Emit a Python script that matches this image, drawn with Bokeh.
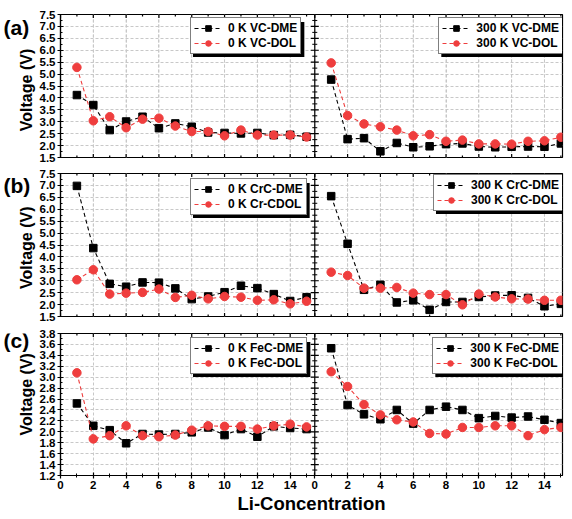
import math
from bokeh.plotting import figure
from bokeh.models import (Range1d, FixedTicker, Span, Legend, LegendItem,
                          BoxAnnotation, CustomJSTickFormatter, NumeralTickFormatter)
from bokeh.layouts import column, row
from bokeh.core.properties import value
from bokeh.embed import file_html
from bokeh.resources import INLINE

# ---------------- data ----------------
conc = [1, 2, 3, 4, 5, 6, 7, 8, 9, 10, 11, 12, 13, 14, 15]

vc_0k_dme = [4.12, 3.70, 2.65, 3.01, 3.21, 2.73, 2.93, 2.79, 2.55, 2.53, 2.51, 2.53, 2.44, 2.45, 2.37]
vc_0k_dol = [5.28, 3.04, 3.21, 2.75, 3.11, 3.15, 2.82, 2.59, 2.59, 2.41, 2.65, 2.44, 2.44, 2.44, 2.36]
vc_300k_dme = [4.77, 2.27, 2.31, 1.76, 2.11, 1.93, 1.97, 2.06, 2.09, 1.96, 1.93, 1.95, 1.96, 1.95, 2.09]
vc_300k_dol = [5.47, 3.26, 2.91, 2.79, 2.65, 2.41, 2.46, 2.18, 2.23, 2.07, 2.07, 2.06, 2.18, 2.20, 2.35]

crc_0k_dme = [6.98, 4.37, 2.87, 2.75, 2.93, 2.92, 2.68, 2.23, 2.34, 2.52, 2.79, 2.69, 2.44, 2.15, 2.31]
crc_0k_dol = [3.04, 3.46, 2.44, 2.48, 2.51, 2.65, 2.30, 2.39, 2.24, 2.34, 2.31, 2.18, 2.20, 2.03, 2.14]
crc_300k_dme = [6.55, 4.55, 2.62, 2.83, 2.09, 2.18, 1.78, 2.11, 2.11, 2.32, 2.38, 2.39, 2.28, 1.93, 2.03]
crc_300k_dol = [3.36, 3.22, 2.69, 2.69, 2.72, 2.48, 2.42, 2.42, 1.99, 2.44, 2.32, 2.24, 2.23, 2.18, 2.18]

fec_0k_dme = [2.52, 2.11, 2.03, 1.79, 1.96, 1.95, 1.96, 1.99, 2.08, 1.94, 2.05, 1.91, 2.10, 2.07, 2.05]
fec_0k_dol = [3.08, 1.87, 1.93, 2.11, 1.93, 1.91, 1.94, 2.03, 2.11, 2.10, 2.10, 2.05, 2.11, 2.14, 2.09]
fec_300k_dme = [3.53, 2.49, 2.32, 2.23, 2.40, 2.15, 2.40, 2.46, 2.40, 2.25, 2.29, 2.26, 2.28, 2.22, 2.16]
fec_300k_dol = [3.10, 2.83, 2.50, 2.31, 2.22, 2.18, 1.97, 1.96, 2.08, 2.08, 2.11, 2.11, 1.93, 2.04, 2.08]

x_ticks = [0, 2, 4, 6, 8, 10, 12, 14]
y_ticks_ab = [1.5, 2.0, 2.5, 3.0, 3.5, 4.0, 4.5, 5.0, 5.5, 6.0, 6.5, 7.0, 7.5]
y_ticks_c = [1.2, 1.4, 1.6, 1.8, 2.0, 2.2, 2.4, 2.6, 2.8, 3.0, 3.2, 3.4, 3.6, 3.8]

# ---------------- style ----------------
FONT = "Liberation Sans"
RED = "#ef3e3e"
LEFT_SPAN = 15.5     # x extent of the left (0 K) panel
RIGHT_SPAN = 15.1    # x extent of the right (300 K) panel
FRAME_W = 505
FRAME_H = 143
STRIP_W = 36
LEGEND_FS = 12

CHARW = {'0': .556, '3': .556, ' ': .278, 'K': .722, 'V': .667, 'C': .722, '-': .333,
         'D': .722, 'M': .833, 'E': .667, 'O': .778, 'L': .611, 'r': .389, 'F': .611, 'e': .556}


def text_w(s, fs):
    return sum(CHARW.get(c, .6) for c in s) * fs


def minors(ticks, extra_end=None):
    m = [(a + b) / 2 for a, b in zip(ticks[:-1], ticks[1:])]
    if extra_end is not None:
        m.append(extra_end)
    return m


x_minor = minors(x_ticks, 15)
all_x_major = x_ticks + [t + LEFT_SPAN for t in x_ticks]
all_x_minor = x_minor + [t + LEFT_SPAN for t in x_minor]


def make_strip(height, tag, top_b, bot_b, tag_dy):
    s = figure(width=STRIP_W, height=height, output_backend="svg", toolbar_location=None,
               x_range=Range1d(0, STRIP_W), y_range=Range1d(0, height),
               x_axis_location=None, y_axis_location=None, min_border=0,
               outline_line_color=None, background_fill_color="white",
               border_fill_color="white")
    s.xgrid.visible = False
    s.ygrid.visible = False
    s.text(x=[3], y=[height - top_b + tag_dy], text=[tag], text_font=value(FONT),
           text_font_style=value("bold"), text_font_size=value("21px"),
           text_align=value("left"), text_baseline=value("middle"), text_color="black")
    s.text(x=[STRIP_W - 10], y=[bot_b + FRAME_H / 2], text=["Voltage (V)"],
           angle=math.pi / 2, text_font=value(FONT), text_font_style=value("bold"),
           text_font_size=value("16px"), text_align=value("center"),
           text_baseline=value("middle"), text_color="black")
    return s


def tick_marks(p, xs, y, size, angle):
    p.scatter(x=xs, y=[y] * len(xs), marker="dash", size=size, angle=angle,
              line_color="black", line_width=1.2)


def make_row(tag, yr, yticks, left_data, right_data, labels, legend_tops,
             top_b, bot_b, show_x, tag_dy):
    height = top_b + FRAME_H + bot_b
    p = figure(width=21 + FRAME_W + 5, height=height, output_backend="svg",
               toolbar_location=None,
               x_range=Range1d(0, LEFT_SPAN + RIGHT_SPAN), y_range=Range1d(*yr),
               x_axis_location="below" if show_x else None,
               min_border_left=21, min_border_right=5, min_border_top=top_b,
               min_border_bottom=bot_b, background_fill_color="white",
               border_fill_color="white")
    p.extra_x_ranges = {"right": Range1d(-LEFT_SPAN, RIGHT_SPAN)}
    p.outline_line_color = "black"
    p.outline_line_width = 1.2

    yminor = minors(yticks)
    if show_x:
        xa = p.xaxis[0]
        xa.ticker = FixedTicker(ticks=all_x_major, minor_ticks=all_x_minor)
        xa.formatter = CustomJSTickFormatter(args=dict(split=LEFT_SPAN),
            code="const v = tick > split - 0.01 ? tick - split : tick; return v.toFixed(0);")
        xa.major_tick_in = 3
        xa.major_tick_out = 3
        xa.minor_tick_in = 2
        xa.minor_tick_out = 2
        xa.axis_line_width = 1.2
        xa.major_tick_line_width = 1.2
        xa.major_label_text_font = FONT
        xa.major_label_text_font_style = "bold"
        xa.major_label_text_font_size = "11.5px"
        xa.major_label_text_color = "black"
        xa.major_label_standoff = 2
        xa.axis_label = "Li-Concentration"
        xa.axis_label_text_font = FONT
        xa.axis_label_text_font_style = "bold"
        xa.axis_label_text_font_size = "18.5px"
        xa.axis_label_text_color = "black"
        xa.axis_label_standoff = 1
    else:
        tick_marks(p, all_x_major, yr[0], 7, math.pi / 2)
        tick_marks(p, all_x_minor, yr[0], 4, math.pi / 2)
    # top ticks
    tick_marks(p, all_x_major, yr[1], 7, math.pi / 2)
    tick_marks(p, all_x_minor, yr[1], 4, math.pi / 2)

    # left axis
    ya = p.yaxis[0]
    ya.ticker = FixedTicker(ticks=yticks, minor_ticks=yminor)
    ya.formatter = NumeralTickFormatter(format="0.0")
    ya.major_label_text_font = FONT
    ya.major_label_text_font_style = "bold"
    ya.major_label_text_font_size = "11.5px"
    ya.major_label_text_color = "black"
    ya.major_label_standoff = 2
    ya.major_tick_in = 3
    ya.major_tick_out = 3
    ya.minor_tick_in = 2
    ya.minor_tick_out = 0
    ya.axis_line_width = 1.2
    ya.major_tick_line_width = 1.2

    # grids
    p.xgrid.ticker = FixedTicker(ticks=all_x_major)
    p.ygrid[0].ticker = FixedTicker(ticks=yticks)
    p.grid.grid_line_color = "#c8c8c8"
    p.grid.grid_line_dash = "3 2"
    p.grid.grid_line_width = 1
    if not show_x:
        # x grid lines without an x axis
        for xv in all_x_major:
            p.add_layout(Span(location=xv, dimension="height", line_color="#c8c8c8",
                              line_dash="3 2", line_width=1, level="underlay"))

    # divider between panels with crossing ticks
    p.add_layout(Span(location=LEFT_SPAN, dimension="height", line_color="black",
                      line_width=1.2))
    p.scatter(x=[LEFT_SPAN] * len(yticks), y=yticks, marker="dash", size=8,
              line_color="black", line_width=1.2)
    p.scatter(x=[LEFT_SPAN] * len(yminor), y=yminor, marker="dash", size=5,
              line_color="black", line_width=1)

    # series
    panels = [("default", left_data, labels[0:2], legend_tops[0], 130),
              ("right", right_data, labels[2:4], legend_tops[1], None)]
    for rname, (dme, dol), labs, ltop, lx in panels:
        kw = {} if rname == "default" else {"x_range_name": "right"}
        l1 = p.line(conc, dme, line_color="black", line_dash="4 3", line_width=1.1, **kw)
        s1 = p.scatter(conc, dme, marker="square", size=7.5, fill_color="black",
                       line_color="black", **kw)
        l2 = p.line(conc, dol, line_color=RED, line_dash="4 3", line_width=1.1, **kw)
        s2 = p.scatter(conc, dol, marker="circle", size=8.5, fill_color=RED,
                       line_color=RED, **kw)
        w = 2 * 3 + 28 + 6 + max(text_w(s, LEGEND_FS) for s in labs) + 2
        h = 2 * 3 + 2 * 14 + 1
        if lx is None:
            lx = FRAME_W - 2 - w
        ly = FRAME_H - ltop - h
        shadow = BoxAnnotation(left=lx + 2.5, right=lx + w + 2.5, bottom=ly - 2.5,
                               top=ly + h - 2.5, left_units="screen", right_units="screen",
                               top_units="screen", bottom_units="screen",
                               fill_color="black", fill_alpha=1, line_alpha=0)
        p.add_layout(shadow)
        leg = Legend(items=[LegendItem(label=labs[0], renderers=[l1, s1]),
                            LegendItem(label=labs[1], renderers=[l2, s2])],
                     location=(lx, ly), orientation="vertical",
                     label_text_font=FONT, label_text_font_style="bold",
                     label_text_font_size=f"{LEGEND_FS}px", label_text_color="black",
                     glyph_width=28, glyph_height=14, label_height=14, label_standoff=6,
                     padding=3, spacing=1, margin=0,
                     border_line_color="black", border_line_width=1.2,
                     background_fill_color="white", background_fill_alpha=1)
        p.add_layout(leg)

    strip = make_strip(height, tag, top_b, bot_b, tag_dy)
    return row(strip, p, spacing=0)


ra = make_row("(a)", (1.5, 7.5), y_ticks_ab, (vc_0k_dme, vc_0k_dol), (vc_300k_dme, vc_300k_dol),
              ["0 K VC-DME", "0 K VC-DOL", "300 K VC-DME", "300 K VC-DOL"],
              (5, 5), 14, 5, False, -0.5)
rb = make_row("(b)", (1.5, 7.5), y_ticks_ab, (crc_0k_dme, crc_0k_dol), (crc_300k_dme, crc_300k_dol),
              ["0 K CrC-DME", "0 K Cr-CDOL", "300 K CrC-DME", "300 K CrC-DOL"],
              (7, 3), 11, 5, False, -2)
rc = make_row("(c)", (1.2, 3.8), y_ticks_c, (fec_0k_dme, fec_0k_dol), (fec_300k_dme, fec_300k_dol),
              ["0 K FeC-DME", "0 K FeC-DOL", "300 K FeC-DME", "300 K FeC-DOL"],
              (7, 7), 12, 40, True, 2)

layout = column(ra, rb, rc, spacing=0)
open("out.html", "w").write(file_html(layout, INLINE))
